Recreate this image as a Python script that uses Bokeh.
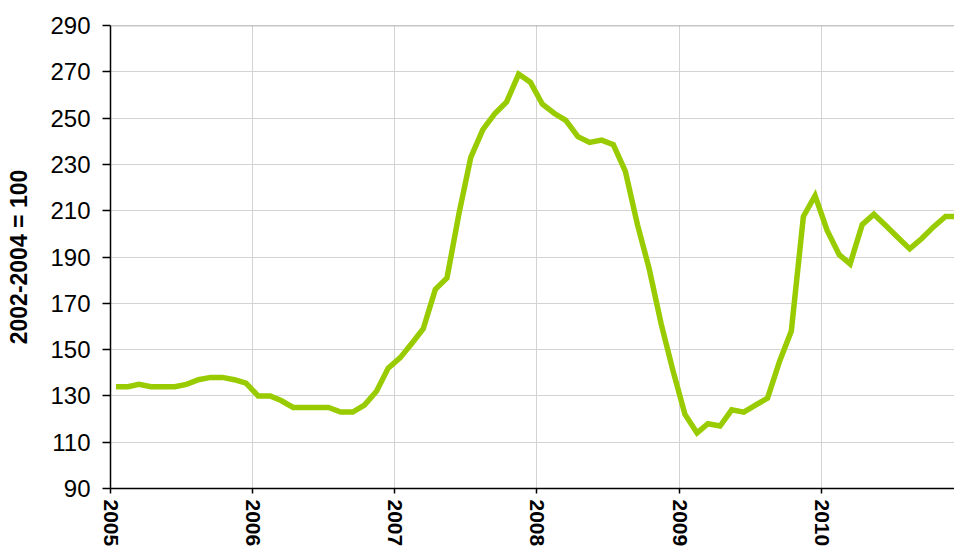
import pandas as pd
from bokeh.plotting import figure
from bokeh.models import FixedTicker, Span, DatetimeTickFormatter, Range1d
from bokeh.embed import file_html
from bokeh.resources import INLINE

# Monthly price index (2002-2004 = 100), Jan 2005 .. Dec 2010, plotted mid-month
months = pd.date_range("2005-01-01", periods=72, freq="MS") + pd.Timedelta(days=14)
index_values = [
    134, 134, 135, 134, 134, 134, 135, 137, 138, 138, 137, 135.5,      # 2005
    130, 130, 128, 125, 125, 125, 125, 123, 123, 126, 132, 142,        # 2006
    146.5, 153, 159, 176, 181, 209, 233, 245, 252, 257, 269, 265.5,    # 2007
    256, 252, 249, 242, 239.5, 240.5, 238.5, 227, 204, 185, 161, 141,  # 2008
    122, 114, 118, 117, 124, 123, 126, 129, 145, 158, 207.5, 216.5,    # 2009
    201.5, 191, 187, 204, 208.5, 203.5, 198.5, 193.5, 198, 203, 207.5, 207.5,  # 2010
]
y_ticks = [90, 110, 130, 150, 170, 190, 210, 230, 250, 270, 290]
year_labels = ["2005", "2006", "2007", "2008", "2009", "2010"]
y_axis_label = "2002-2004 = 100"


def ms(ts):
    return pd.Timestamp(ts).timestamp() * 1000.0


year_ticks = [ms(f"{y}-01-01") for y in year_labels]

FONT = "Liberation Sans"

p = figure(
    width=954, height=549,
    x_axis_type="datetime",
    x_range=Range1d(ms("2005-01-01"), ms("2010-12-08")),
    y_range=Range1d(90, 290),
    output_backend="svg", toolbar_location=None,
    min_border_left=110, min_border_top=25, min_border_bottom=61, min_border_right=0,
)
p.outline_line_color = None
p.background_fill_color = "white"
p.border_fill_color = "white"

p.line(months, index_values, line_color="#99CC00", line_width=5.5, line_join="miter")

# grids
p.xgrid.ticker = FixedTicker(ticks=year_ticks)
p.ygrid.ticker = FixedTicker(ticks=y_ticks)
p.xgrid.grid_line_color = "#d3d3d3"
p.ygrid.grid_line_color = "#d3d3d3"
p.xgrid.grid_line_width = 1
p.ygrid.grid_line_width = 1
p.add_layout(Span(location=290, dimension="width", line_color="#8c8c8c", line_width=1.5))

# x axis
xa = p.xaxis[0]
xa.ticker = FixedTicker(ticks=year_ticks)
fmt = "%Y"
xa.formatter = DatetimeTickFormatter(
    microseconds=fmt, milliseconds=fmt, seconds=fmt, minsec=fmt, minutes=fmt,
    hourmin=fmt, hours=fmt, days=fmt, months=fmt, years=fmt,
)
xa.major_label_orientation = "vertical"
xa.major_label_text_font = FONT
xa.major_label_text_font_style = "bold"
xa.major_label_text_font_size = "21px"
xa.major_label_text_color = "black"
xa.major_label_standoff = 6
xa.major_tick_out = 5
xa.major_tick_in = 0
xa.minor_tick_line_color = None
xa.axis_line_color = "black"
xa.axis_line_width = 1.5
xa.major_tick_line_color = "black"
xa.major_tick_line_width = 1.5

# y axis
ya = p.yaxis[0]
ya.ticker = FixedTicker(ticks=y_ticks)
ya.major_label_text_font = FONT
ya.major_label_text_font_size = "24px"
ya.major_label_text_color = "black"
ya.major_label_standoff = 12
ya.major_tick_out = 8
ya.major_tick_in = 0
ya.minor_tick_line_color = None
ya.axis_line_color = "black"
ya.axis_line_width = 1.5
ya.major_tick_line_color = "black"
ya.major_tick_line_width = 1.5
ya.axis_label = y_axis_label
ya.axis_label_text_font = FONT
ya.axis_label_text_font_style = "bold"
ya.axis_label_text_font_size = "23px"
ya.axis_label_text_color = "black"
ya.axis_label_standoff = 15

open("out.html", "w").write(file_html(p, INLINE))
